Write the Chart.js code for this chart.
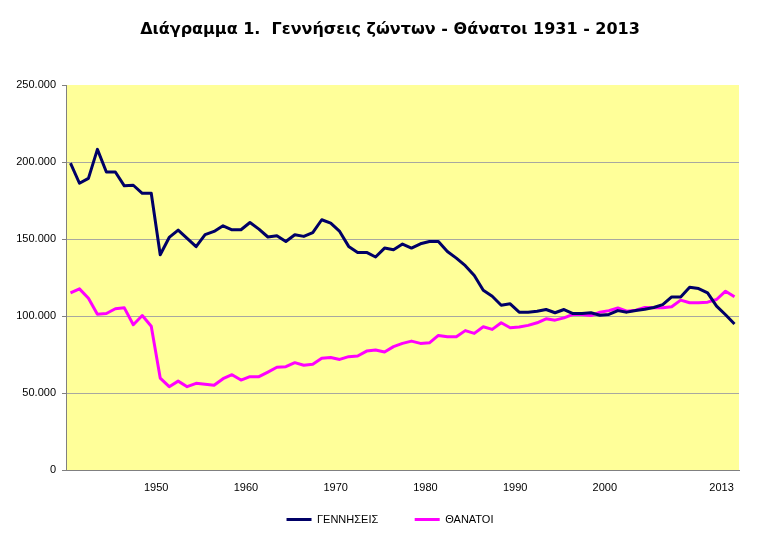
<!DOCTYPE html>
<html>
<head>
<meta charset="utf-8">
<script src="https://cdn.jsdelivr.net/npm/chart.js@4"></script>
<style>
  body { margin: 0; background: #fff; }
</style>
</head>
<body>
<canvas id="myChart" width="780" height="533"></canvas>
<script>
// κατηγορίες (έτη) - 1931-1940, ένα έτος πριν το 1950, μετά 1950-2013
const years = [
    '1931', '1932', '1933', '1934', '1935', '1936', '1937', '1938', '1939', '1940', '1949',
    '1950', '1951', '1952', '1953', '1954', '1955', '1956', '1957', '1958', '1959',
    '1960', '1961', '1962', '1963', '1964', '1965', '1966', '1967', '1968', '1969',
    '1970', '1971', '1972', '1973', '1974', '1975', '1976', '1977', '1978', '1979',
    '1980', '1981', '1982', '1983', '1984', '1985', '1986', '1987', '1988', '1989',
    '1990', '1991', '1992', '1993', '1994', '1995', '1996', '1997', '1998', '1999',
    '2000', '2001', '2002', '2003', '2004', '2005', '2006', '2007', '2008', '2009',
    '2010', '2011', '2012', '2013'
];

// ετικέτες που φαίνονται στον άξονα x
const tickYears = ['1950', '1960', '1970', '1980', '1990', '2000', '2013'];

// Γεννήσεις ζώντων
const births = [
    199200, 186200, 189400, 208200, 193500, 193500, 184500, 184900, 179700, 179700, 139800,
    151000, 155800, 150400, 145000, 152800, 154900, 158600, 156000, 156000, 160700,
    156400, 151300, 152100, 148400, 152800, 151700, 154200, 162500, 160300, 154900,
    145200, 141300, 141300, 138300, 144100, 143000, 146700, 144100, 146900, 148400,
    148400, 141900, 137600, 132700, 126300, 116700, 112800, 107000, 107900, 102500,
    102500, 103100, 104200, 102100, 104200, 101600, 101600, 102100, 100500, 101000,
    103500, 102500, 103600, 104400, 105500, 107400, 112400, 112300, 118700, 117800,
    115000, 106400, 100800, 94800
];

// Θάνατοι
const deaths = [
    115000, 117600, 111500, 101200, 101600, 104700, 105300, 94300, 100300, 93400, 59700,
    54100, 57700, 54100, 56300, 55700, 55000, 59300, 61900, 58400, 60600,
    60600, 63600, 66700, 67100, 69700, 68000, 68600, 72500, 73000, 71800,
    73600, 74000, 77200, 77900, 76600, 80100, 82200, 83700, 82200, 82600,
    87400, 86500, 86500, 90500, 88700, 93000, 91300, 95600, 92400, 92800,
    93900, 95600, 98200, 97300, 98800, 101000, 101000, 100300, 102500, 103500,
    105200, 103100, 103800, 105600, 105300, 105300, 106000, 110300, 108600, 108600,
    109000, 110700, 116100, 112500
];

// τιμές άξονα y
const yTicks = [0, 50000, 100000, 150000, 200000, 250000];

Chart.defaults.font.family = 'Liberation Sans';
Chart.defaults.color = '#000';

// κίτρινο φόντο στην περιοχή σχεδίασης
const plotBg = {
    id: 'plotBg',
    beforeDraw(chart) {
        const a = chart.chartArea;
        const c = chart.ctx;
        c.save();
        c.fillStyle = '#ffff99';
        c.fillRect(a.left, a.top, a.right - a.left, a.bottom - a.top);
        c.restore();
    }
};

function fmt(v) {
    return v.toString().replace(/\B(?=(\d{3})+(?!\d))/g, '.');
}

const ctx = document.getElementById('myChart').getContext('2d');
new Chart(ctx, {
    type: 'line',
    data: {
        labels: years,
        datasets: [{
            label: 'ΓΕΝΝΗΣΕΙΣ',
            data: births,
            borderColor: '#000066',
            backgroundColor: '#000066',
            borderWidth: 3,
            pointRadius: 0,
            tension: 0,
            borderJoinStyle: 'round'
        }, {
            label: 'ΘΑΝΑΤΟΙ',
            data: deaths,
            borderColor: '#ff00ff',
            backgroundColor: '#ff00ff',
            borderWidth: 3,
            pointRadius: 0,
            tension: 0,
            borderJoinStyle: 'round'
        }]
    },
    options: {
        responsive: false,
        animation: false,
        layout: { padding: { bottom: -2 } },
        plugins: {
            title: {
                display: true,
                text: 'Διάγραμμα 1.  Γεννήσεις ζώντων - Θάνατοι 1931 - 2013',
                color: '#000',
                font: { family: 'DejaVu Sans', size: 16, weight: 'bold' },
                padding: { top: 20, bottom: 45.8 }
            },
            legend: {
                position: 'bottom',
                labels: {
                    usePointStyle: true,
                    pointStyle: 'line',
                    pointStyleWidth: 25,
                    padding: 12,
                    font: { size: 11 },
                    // λίγο κενό μετά το πρώτο στοιχείο, όπως στο πρωτότυπο
                    generateLabels: chart => {
                        const items = Chart.defaults.plugins.legend.labels.generateLabels(chart);
                        items[0].text += '        ';
                        return items;
                    }
                }
            },
            tooltip: { enabled: false }
        },
        scales: {
            x: {
                offset: true,
                grid: { display: false, drawTicks: false },
                border: { color: '#808080' },
                ticks: {
                    autoSkip: false,
                    maxRotation: 0,
                    padding: 11,
                    labelOffset: -13,
                    font: { size: 11 },
                    callback: function(value) {
                        const lab = this.getLabelForValue(value);
                        return tickYears.includes(lab) ? lab : '';
                    }
                },
                afterFit: s => { s.height = 32; }
            },
            y: {
                min: 0,
                max: 250000,
                afterBuildTicks: s => { s.ticks = yTicks.map(v => ({ value: v })); },
                ticks: { padding: 6, font: { size: 11 }, callback: v => fmt(v) },
                grid: {
                    tickLength: 4,
                    tickColor: '#808080',
                    color: c => (c.tick.value === 0 || c.tick.value === 250000) ? 'rgba(0,0,0,0)' : '#a8a8a0'
                },
                border: { color: '#808080' },
                afterFit: s => { s.width = 66; }
            },
            yr: {
                type: 'linear',
                position: 'right',
                grid: { display: false },
                border: { display: false },
                ticks: { display: false },
                afterFit: s => { s.width = 41; }
            }
        }
    },
    plugins: [plotBg]
});
</script>
</body>
</html>
